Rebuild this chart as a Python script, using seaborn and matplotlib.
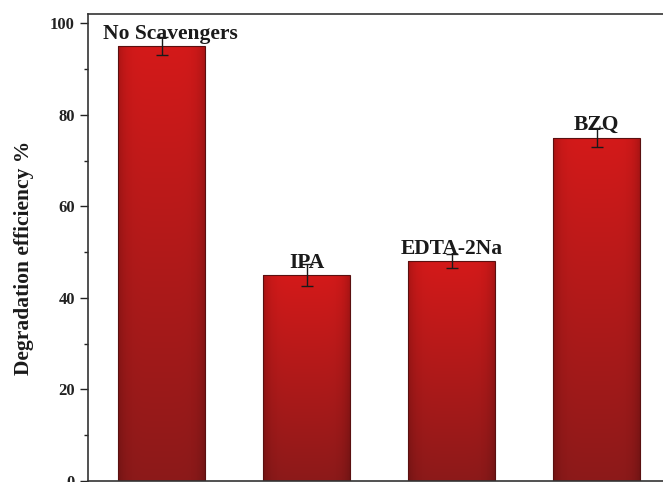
import numpy as np
import pandas as pd
import matplotlib
matplotlib.use("Agg")
import matplotlib.pyplot as plt
import seaborn as sns

# Scavenger experiment: degradation efficiency with error bars
scavengers = ["No Scavengers", "IPA", "EDTA-2Na", "BZQ"]
efficiency = [95, 45, 48, 75]
errors = [2.0, 2.3, 1.5, 2.0]

df = pd.DataFrame({"scavenger": scavengers, "efficiency": efficiency})

sns.set_style("ticks")
plt.rcParams["font.family"] = ["Liberation Serif", "DejaVu Serif"]

fig = plt.figure(figsize=(6.63, 4.82), dpi=100)
ax = fig.add_axes([88 / 663, 1 / 482, 582 / 663, 467 / 482])

sns.barplot(data=df, x="scavenger", y="efficiency", ax=ax, width=0.6,
            color="#c01818", edgecolor="#5a1010", linewidth=0.8,
            errorbar=None)

# vertical red gradient with darker side edges, clipped to each bar
ny, nx = 200, 60
t = np.linspace(0, 1, ny)[:, None]          # 0 bottom -> 1 top
u = np.linspace(-1, 1, nx)[None, :]
edge = 1 - 0.18 * np.abs(u) ** 6
top = np.array([0.83, 0.10, 0.10])
bot = np.array([0.55, 0.10, 0.10])
rgb = (bot[None, None, :] * (1 - t[..., None]) + top[None, None, :] * t[..., None])
rgb = rgb * edge[..., None]
rgb = np.clip(rgb, 0, 1)

for patch in ax.patches:
    x0, y0 = patch.get_x(), patch.get_y()
    w, h = patch.get_width(), patch.get_height()
    im = ax.imshow(rgb, extent=[x0, x0 + w, y0, y0 + h], origin="lower",
                   aspect="auto", zorder=patch.get_zorder() - 0.1,
                   interpolation="bilinear")
    im.set_clip_path(patch)
    patch.set_facecolor("none")
ax.set_xlim(-0.51, 3.505)
ax.set_ylim(0, 102)

# error bars
xs = np.arange(len(scavengers))
ax.errorbar(xs, efficiency, yerr=errors, fmt="none", ecolor="#1a1a1a",
            elinewidth=1.0, capsize=4, capthick=1.0, zorder=5)

# category names above each bar (first one nudged away from the spine)
for i, (name, val) in enumerate(zip(scavengers, efficiency)):
    dx = 6 if i == 0 else 0
    ax.annotate(name, xy=(i, val + 0.5), xytext=(dx, 0),
                textcoords="offset points", ha="center", va="bottom",
                fontsize=15.5, fontweight="bold", color="#1a1a1a", zorder=6)

ax.set_xlabel("")
ax.set_xticks([])
ax.set_yticks([0, 20, 40, 60, 80, 100])
ax.set_yticks([10, 30, 50, 70, 90], minor=True)
ax.tick_params(axis="y", which="major", direction="out", length=6, width=1,
               labelsize=12, colors="#222222")
ax.tick_params(axis="y", which="minor", direction="out", length=3, width=1,
               color="#222222")
for lab in ax.get_yticklabels():
    lab.set_fontweight("bold")
ax.set_ylabel("Degradation efficiency %", fontsize=15.5, fontweight="bold",
              color="#1a1a1a")
ax.yaxis.set_label_coords(-0.092, 0.477)
for s in ax.spines.values():
    s.set_visible(True)
    s.set_linewidth(1.2)
    s.set_color("#333333")

fig.savefig("out.png", dpi=100)
